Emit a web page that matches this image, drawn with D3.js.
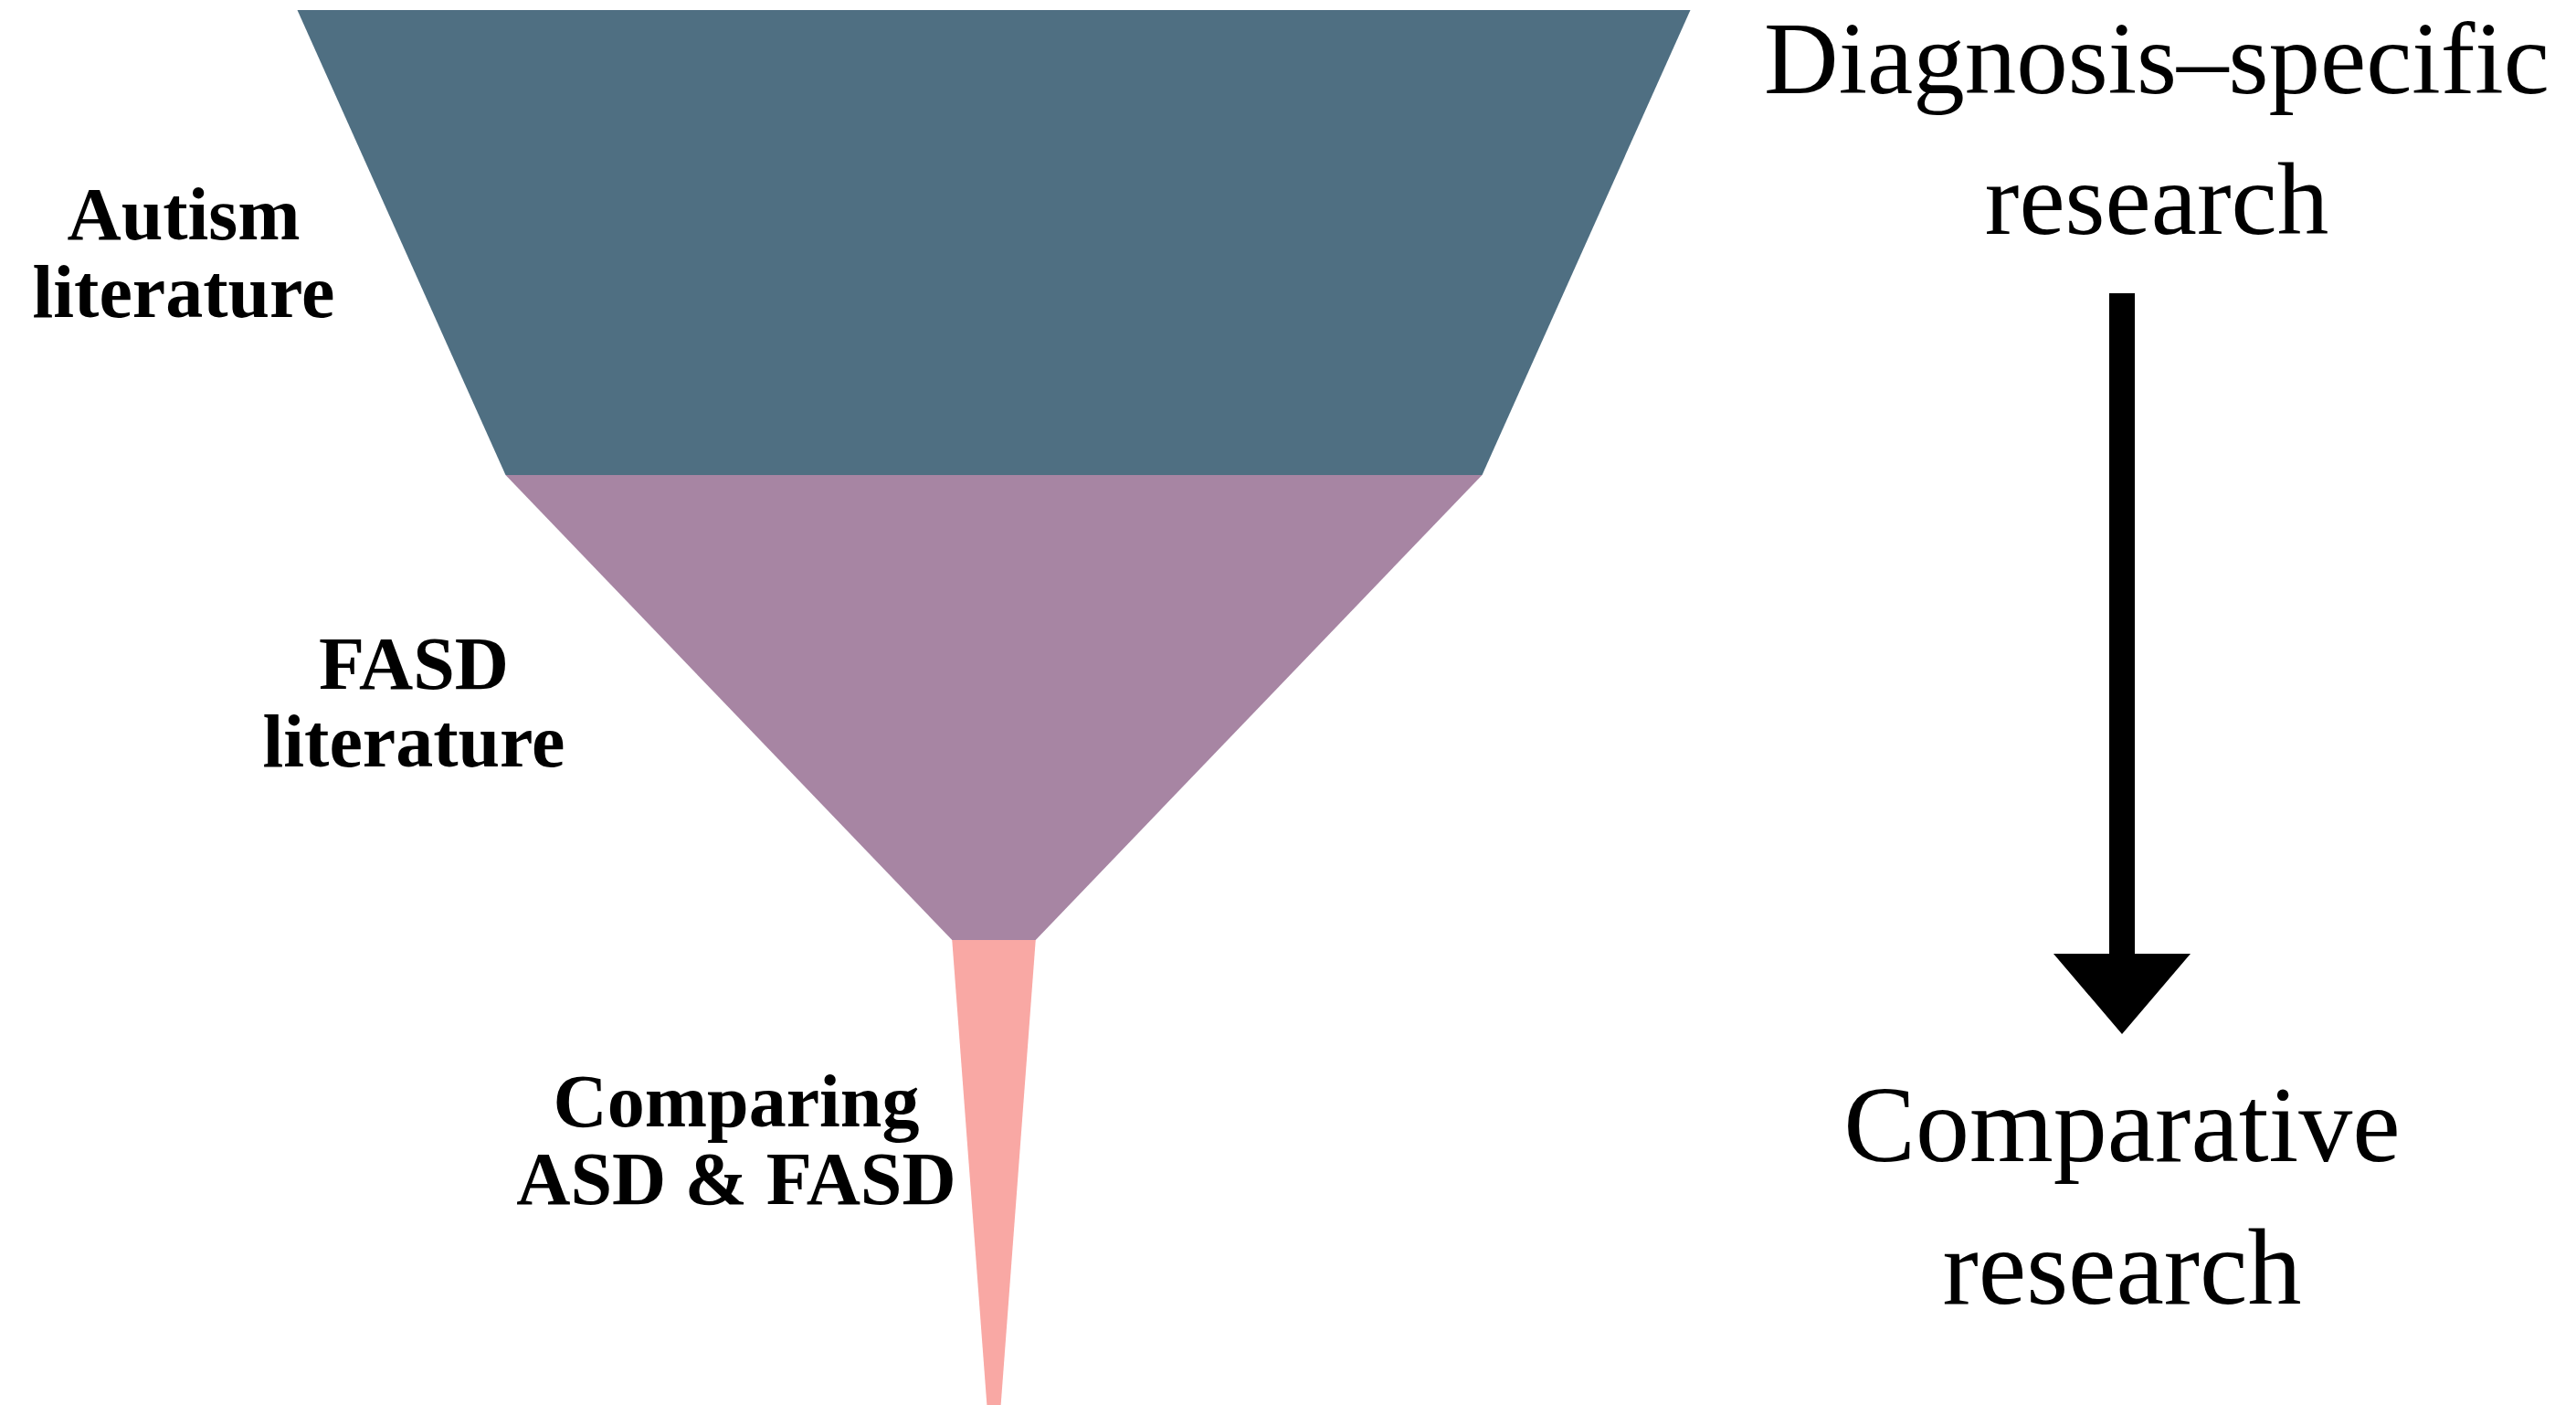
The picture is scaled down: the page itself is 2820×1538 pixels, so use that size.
<!DOCTYPE html>
<html>
<head>
<meta charset="utf-8">
<script src="https://cdn.jsdelivr.net/npm/d3@7"></script>
<style>
  html, body { margin: 0; padding: 0; background: #ffffff; overflow: hidden; }
  svg { display: block; }
</style>
</head>
<body>
<svg id="chart" width="2820" height="1538"></svg>
<script>
// ---- data ----
const stages = ["Autism literature", "FASD literature", "Comparing ASD & FASD"];
const stageLabels = [["Autism", "literature"], ["FASD", "literature"], ["Comparing", "ASD & FASD"]];
// relative width of the funnel at each stage boundary (top of stage i, bottom of stage i)
const topWidths = [100, 70.1, 6.0];
const bottomWidths = [70.1, 6.0, 1.0];
const stageColors = ["#4f6f82", "#a785a3", "#f9a8a4"];
const sideTop = ["Diagnosis–specific", "research"];
const sideBottom = ["Comparative", "research"];

// ---- layout ----
const W = 2820, H = 1538;
const cx = 1088;
const svg = d3.select("#chart");

const y = d3.scaleBand().domain(stages).range([11, 1538]).padding(0);
const w = d3.scaleLinear().domain([0, 100]).range([0, 1525]);

const data = stages.map((s, i) => ({ stage: s, top: topWidths[i], bottom: bottomWidths[i], color: stageColors[i], label: stageLabels[i] }));

svg.selectAll("path.stage")
  .data(data)
  .join("path")
  .attr("class", "stage")
  .attr("fill", d => d.color)
  .attr("d", d => {
    const y0 = y(d.stage), y1 = y0 + y.bandwidth();
    const t = w(d.top) / 2, b = w(d.bottom) / 2;
    return `M${cx - t},${y0}L${cx + t},${y0}L${cx + b},${y1}L${cx - b},${y1}Z`;
  });

// stage labels (left side)
const labelPos = [
  { x: 201, y: 262 },
  { x: 453, y: 754 },
  { x: 806, y: 1233 }
];
const lineH = 85;
svg.selectAll("text.stage-label")
  .data(data)
  .join("text")
  .attr("class", "stage-label")
  .attr("text-anchor", "middle")
  .attr("font-family", "'Liberation Serif', 'DejaVu Serif', serif")
  .attr("font-weight", "bold")
  .attr("font-size", 82)
  .attr("fill", "#000")
  .each(function(d, i) {
    d3.select(this).selectAll("tspan")
      .data(d.label)
      .join("tspan")
      .attr("x", labelPos[i].x)
      .attr("y", (l, j) => labelPos[i].y + j * lineH)
      .text(l => l);
  });

// right side annotations
const family = "'Liberation Serif', 'Times New Roman', serif";
function sideText(lines, x, y0, gap, size) {
  svg.append("text")
    .attr("text-anchor", "middle")
    .attr("font-family", family)
    .attr("font-size", size)
    .attr("fill", "#000")
    .selectAll("tspan")
    .data(lines)
    .join("tspan")
    .attr("x", x)
    .attr("y", (l, j) => y0 + j * gap)
    .text(l => l);
}
sideText(sideTop, 2361, 102, 154, 113);
sideText(sideBottom, 2323, 1271, 156, 118);

// arrow
const ax = 2323, shaftHalf = 14, headHalf = 75;
const aTop = 321, headBase = 1044, tip = 1132;
svg.append("path")
  .attr("fill", "#000")
  .attr("d", `M${ax - shaftHalf},${aTop}L${ax + shaftHalf},${aTop}L${ax + shaftHalf},${headBase}L${ax + headHalf},${headBase}L${ax},${tip}L${ax - headHalf},${headBase}L${ax - shaftHalf},${headBase}Z`);
</script>
</body>
</html>
